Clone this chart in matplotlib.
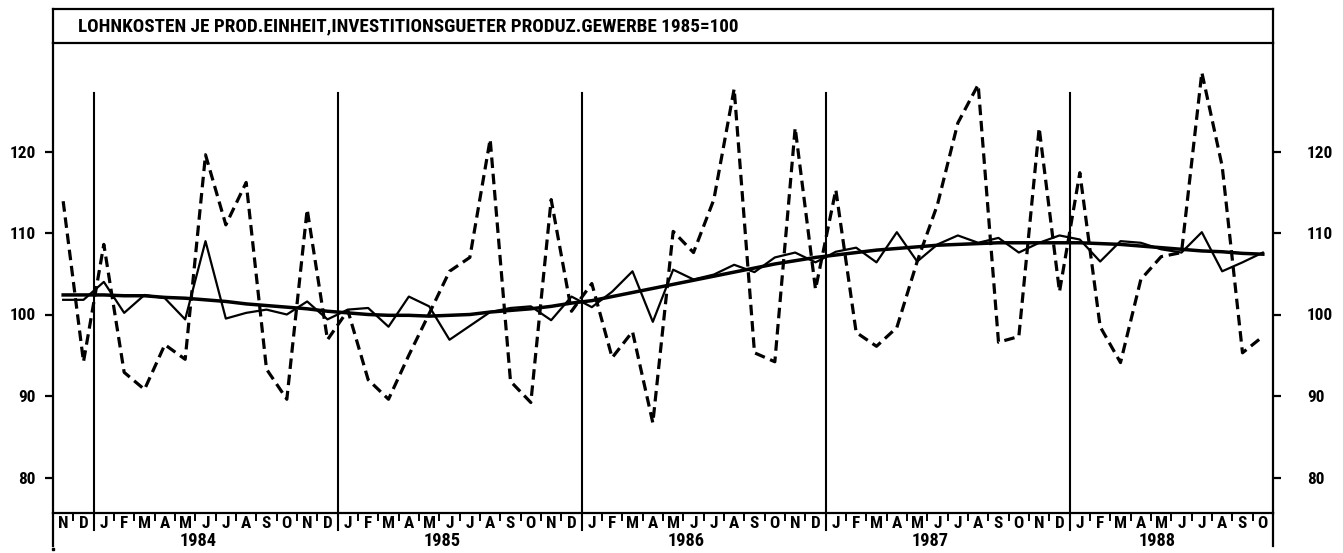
import matplotlib
matplotlib.use("Agg")
import matplotlib.pyplot as plt
from matplotlib import font_manager
from matplotlib.transforms import blended_transform_factory
import numpy as np

# ---------------- data ----------------
title = "LOHNKOSTEN JE PROD.EINHEIT,INVESTITIONSGUETER PRODUZ.GEWERBE 1985=100"
months = (['N', 'D']
          + ['J', 'F', 'M', 'A', 'M', 'J', 'J', 'A', 'S', 'O', 'N', 'D'] * 4
          + ['J', 'F', 'M', 'A', 'M', 'J', 'J', 'A', 'S', 'O'])
years = ['1984', '1985', '1986', '1987', '1988']
year_start = [2, 14, 26, 38, 50]
year_len = [12, 12, 12, 12, 10]

original = [113.9, 94.2,
            108.6, 92.9, 90.8, 96.3, 94.5, 119.6, 111.0, 116.2, 93.3, 89.6, 112.9, 96.9,
            100.5, 92.0, 89.6, 95.0, 100.1, 105.3, 107.0, 121.5, 91.8, 89.2, 114.1, 100.4,
            103.8, 94.7, 97.9, 86.7, 110.2, 107.6, 114.1, 127.7, 95.3, 94.2, 122.9, 103.1,
            115.3, 97.8, 96.1, 98.4, 106.5, 113.5, 123.5, 128.2, 96.6, 97.3, 122.9, 102.8,
            117.4, 98.5, 94.1, 104.3, 107.1, 107.6, 129.7, 118.2, 95.3, 97.3]
adjusted = [101.8, 101.8,
            104.0, 100.2, 102.4, 102.0, 99.4, 109.0, 99.5, 100.2, 100.6, 100.0, 101.6, 99.4,
            100.6, 100.8, 98.5, 102.2, 101.0, 96.9, 98.6, 100.3, 100.8, 101.0, 99.3, 102.2,
            100.9, 102.8, 105.3, 99.1, 105.5, 104.3, 104.9, 106.1, 105.2, 107.0, 107.6, 106.4,
            107.7, 108.2, 106.4, 110.1, 106.5, 108.6, 109.7, 108.8, 109.4, 107.6, 108.8, 109.7,
            109.2, 106.5, 109.0, 108.8, 108.0, 107.6, 110.1, 105.3, 106.4, 107.6]
trend = [102.4, 102.4,
         102.4, 102.3, 102.3, 102.1, 102.0, 101.8, 101.6, 101.3, 101.1, 100.9, 100.7, 100.4,
         100.2, 100.0, 99.9, 99.9, 99.8, 99.9, 100.0, 100.3, 100.5, 100.7, 101.0, 101.4,
         101.7, 102.2, 102.7, 103.2, 103.7, 104.2, 104.7, 105.2, 105.7, 106.2, 106.6, 107.0,
         107.3, 107.6, 107.9, 108.1, 108.3, 108.5, 108.6, 108.7, 108.8, 108.8, 108.8, 108.8,
         108.8, 108.7, 108.6, 108.4, 108.2, 108.0, 107.8, 107.7, 107.5, 107.4]
yticks = [80, 90, 100, 110, 120]

# ---------------- fonts: prefer a narrow / condensed bold face ----------------
fonts = font_manager.fontManager.ttflist
fam, stretch = 'DejaVu Sans', 'normal'
pref = ['Liberation Sans Narrow', 'Roboto Condensed', 'Open Sans Condensed',
        'DejaVu Sans Condensed', 'Noto Sans Condensed']
names = {f.name for f in fonts}
for p in pref:
    if p in names:
        fam = p
        break
else:
    for f in fonts:
        st = str(f.stretch)
        if (st in ('condensed', 'semi-condensed', 'extra-condensed')
                or (st.isdigit() and int(st) < 500)) and f.weight in (600, 700, 'bold'):
            fam, stretch = f.name, st
            break
plt.rcParams['font.family'] = [fam, 'DejaVu Sans']
plt.rcParams['font.stretch'] = stretch

W, H = 1343, 553
fig = plt.figure(figsize=(W / 100, H / 100), dpi=100)
fig.patch.set_facecolor('white')
renderer = fig.canvas.get_renderer()


def fit(txt, target_w, size0):
    txt.set_fontsize(size0)
    w = txt.get_window_extent(renderer).width
    txt.set_fontsize(size0 * target_w / w)


def fitted_size(s, target_w):
    probe = fig.text(0, 0, s, fontsize=12, fontweight='bold')
    fit(probe, target_w, 12)
    fs = probe.get_fontsize()
    probe.remove()
    return fs


L, R, T, B = 53, 1273, 43, 513
ax = fig.add_axes([L / W, 1 - B / H, (R - L) / W, (B - T) / H])
tax = fig.add_axes([L / W, 1 - T / H, (R - L) / W, (T - 9) / H])

LW = 1.6
for a in (ax, tax):
    for s in a.spines.values():
        s.set_linewidth(LW)
        s.set_color('black')

tax.set_xticks([])
tax.set_yticks([])
tt = tax.text((78 - L) / (R - L), 0.48, title, transform=tax.transAxes, ha='left',
              va='center', fontsize=12.5, fontweight='bold')
fit(tt, 658, 12.5)

n = len(months)
x = np.arange(n) + 0.5
ax.plot(x, original, color='black', lw=2.3, linestyle=(0, (3.3, 1.8)))
ax.plot(x, adjusted, color='black', lw=1.6)
ax.plot(x, trend, color='black', lw=2.5)

ax.set_xlim(0, n)
ylo = 100 - (B - 314.5) / 8.15
yhi = 100 + (314.5 - T) / 8.15
ax.set_ylim(ylo, yhi)
ax.spines['top'].set_visible(False)

tick_fs = fitted_size('120', 26)
month_fs = fitted_size('M', 13)
year_fs = fitted_size('1984', 37)

ax.set_yticks(yticks)
ax.set_yticklabels([str(v) for v in yticks], fontsize=tick_fs, fontweight='bold')
ax.tick_params(axis='y', direction='out', length=5.5, width=LW, pad=7,
               left=True, right=False, labelleft=True, labelright=False)
ax2 = ax.twinx()
ax2.set_ylim(ylo, yhi)
ax2.set_yticks(yticks)
ax2.set_yticklabels([str(v) for v in yticks], fontsize=tick_fs, fontweight='bold')
ax2.tick_params(axis='y', direction='out', length=5.5, width=LW, pad=19)
for s in ax2.spines.values():
    s.set_visible(False)

# month separators (short ticks)
ax.set_xticks([i for i in range(1, n) if i not in year_start])
ax.set_xticklabels([])
ax.tick_params(axis='x', direction='out', length=5.5, width=1.4)

tr = blended_transform_factory(ax.transData, ax.transAxes)
ph = (B - T)  # pixel height of axes
top_frac = (B - 93) / ph
row_bot = -(530 - B) / ph
for xs in year_start:
    ax.plot([xs, xs], [row_bot, top_frac], transform=tr, color='black',
            lw=1.5, clip_on=False)
# outer verticals extend down
for xs in (0, n):
    ax.plot([xs, xs], [0, -(546 - B) / ph], transform=tr, color='black',
            lw=LW, clip_on=False)
ax.plot([0], [-(549 - B) / ph], transform=tr, marker='s', ms=1.8, color='black',
        clip_on=False)

# month letters
my = -(523 - B) / ph
for i, m in enumerate(months):
    ax.text(i + 0.5, my, m, transform=tr, ha='center', va='center',
            fontsize=month_fs, fontweight='bold')
# year labels
yy = -(541 - B) / ph
for yl, st, ln in zip(years, year_start, year_len):
    ax.text(st + 0.43 * ln, yy, yl, transform=tr, ha='center', va='center',
            fontsize=year_fs, fontweight='bold')

fig.savefig('out.png', dpi=100, facecolor='white')
